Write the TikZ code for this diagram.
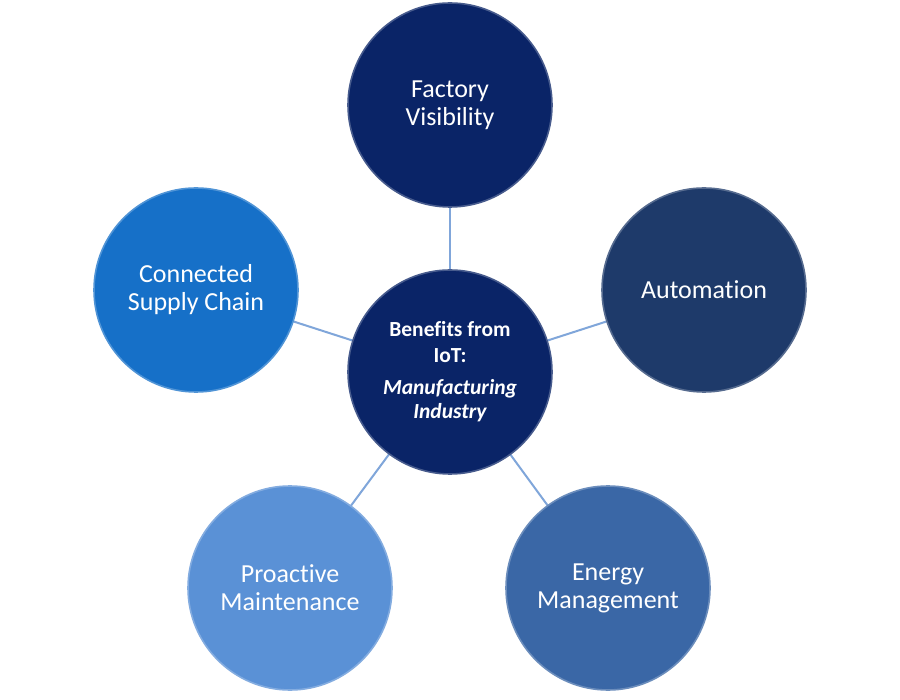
\documentclass[tikz,border=0pt]{standalone}
\usepackage{fontspec}
\setmainfont[Ligatures=NoCommon]{Carlito}
\begin{document}
\begin{tikzpicture}[x=1pt,y=-1pt,
  bubble/.style={circle, minimum size=204pt, inner sep=0pt, align=center, text=white,
    font=\fontsize{26}{28}\selectfont, draw=#1!75!white, line width=1.6pt, fill=#1},
  link/.style={draw=linkblue, line width=2pt}]
\definecolor{navy}{HTML}{0A2467}
\definecolor{sky}{HTML}{1670C8}
\definecolor{slate}{HTML}{1E3A6A}
\definecolor{light}{HTML}{5A91D6}
\definecolor{steel}{HTML}{3A67A6}
\definecolor{linkblue}{HTML}{80A6DA}
\useasboundingbox (0,0) rectangle (900,700);
\fill[white] (0,0) rectangle (900,700);
\coordinate (cc) at (450,372);
\coordinate (fc) at (450,105);
\coordinate (sc) at (196,290);
\coordinate (ac) at (704,290);
\coordinate (pc) at (290,588);
\coordinate (ec) at (608,588);
\draw[link] (cc) -- (fc);
\draw[link] (cc) -- (sc);
\draw[link] (cc) -- (ac);
\draw[link] (cc) -- (pc);
\draw[link] (cc) -- (ec);
\node[bubble=navy] (factory) at (fc) {Factory\\Visibility};
\node[bubble=sky] (supply) at (sc) {Connected\\Supply Chain};
\node[bubble=slate] (auto) at (ac) {Automation};
\node[bubble=light] (proact) at (pc) {Proactive\\Maintenance};
\node[bubble=steel] (energy) at (ec) {Energy\\Management};
\node[bubble=navy, font=\fontsize{21.5}{26}\selectfont\bfseries] (center) at (cc)
  {Benefits from\\IoT:\\[6pt]\itshape Manufacturing\\[-2pt]\itshape Industry};
\end{tikzpicture}
\end{document}
